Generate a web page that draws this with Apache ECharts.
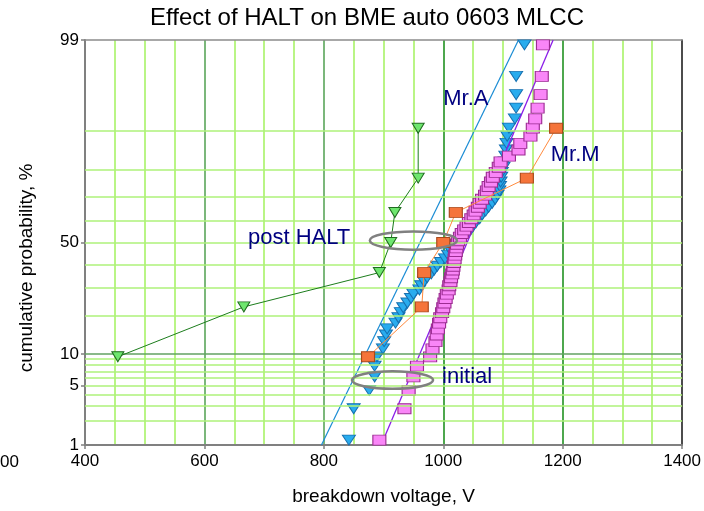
<!DOCTYPE html>
<html>
<head>
<meta charset="utf-8">
<script src="https://cdn.jsdelivr.net/npm/echarts@6/dist/echarts.min.js"></script>
<style>
  html, body { margin: 0; padding: 0; background: #ffffff; }
  #chart { width: 704px; height: 511px; }
</style>
</head>
<body>
<div id="chart"></div>
<script>
// ---- data ---------------------------------------------------------------
// Breakdown voltage (V) of the initial lots, 60 parts each, sorted ascending
const mrA_initial_V = [
  842, 850, 876, 885, 885, 889, 899, 901, 904, 906,
  920, 925, 929, 933, 940, 946, 950, 960, 963, 968,
  973, 980, 985, 990, 996, 1003, 1008, 1013, 1017, 1023,
  1028, 1034, 1040, 1046, 1050, 1055, 1061, 1065, 1071, 1076,
  1082, 1087, 1091, 1094, 1095, 1096, 1097, 1098, 1101, 1103,
  1104, 1105, 1106, 1107, 1110, 1120, 1122, 1122, 1122, 1136
];
const mrM_initial_V = [
  893, 935, 942, 950, 956, 978, 982, 987, 989, 991,
  993, 995, 998, 1000, 1002, 1004, 1006, 1009, 1010, 1012,
  1013, 1015, 1016, 1017, 1018, 1019, 1020, 1021, 1022, 1023,
  1025, 1028, 1031, 1035, 1039, 1043, 1047, 1051, 1054, 1058,
  1061, 1065, 1070, 1073, 1076, 1080, 1083, 1088, 1093, 1096,
  1110, 1126, 1129, 1146, 1150, 1154, 1158, 1163, 1165, 1167
];
// Cumulative probability (%) of each of the 60 ranked parts (median ranks)
const rank60_pct = [
  1.16, 2.81, 4.47, 6.13, 7.78, 9.44, 11.09, 12.75, 14.40, 16.06,
  17.72, 19.37, 21.03, 22.68, 24.34, 25.99, 27.65, 29.30, 30.96, 32.62,
  34.27, 35.93, 37.58, 39.24, 40.89, 42.55, 44.21, 45.86, 47.52, 49.17,
  50.83, 52.48, 54.14, 55.79, 57.45, 59.11, 60.76, 62.42, 64.07, 65.73,
  67.38, 69.04, 70.70, 72.35, 74.01, 75.66, 77.32, 78.97, 80.63, 82.28,
  83.94, 85.60, 87.25, 88.91, 90.56, 92.22, 93.87, 95.53, 97.18, 98.84
];
// Post-HALT lots, 7 parts each
const mrA_postHALT_V = [455, 666, 893, 912, 919, 958, 958];
const mrM_postHALT_V = [874, 964, 968, 1000, 1021, 1140, 1189];
const rank7_pct = [9.46, 22.97, 36.49, 50.0, 63.51, 77.03, 90.54];
// Normal-fit lines of the initial lots: voltage at 1 % and at 99 %
const fit_pct = [1, 99];
const mrA_fit_V = [796, 1126];
const mrM_fit_V = [896, 1184];
// Axis ticks
const xMin = 400, xMax = 1400, xStep = 200;
const yTickPct = [1, 5, 10, 50, 99];
const yGridPct = [2, 3, 4, 5, 6, 7, 8, 9, 10, 20, 30, 40, 50, 60, 70, 80, 90];
// Callouts
const noteText = ['Mr.A', 'Mr.M', 'post HALT', 'initial'];
const noteV = [1000, 1180, 673, 998];
const notePct = [95, 84.3, 52.3, 6.1];
const ringCenterV = [950, 915];
const ringCenterPct = [50.9, 5.7];
const ringHalfWidthV = [73, 68];
const ringHalfHeightZ = [0.105, 0.1];

// ---- probability scale (inverse normal CDF) -----------------------------
function probit(p) {
  const a = [-3.969683028665376e+01, 2.209460984245205e+02, -2.759285104469687e+02,
             1.383577518672690e+02, -3.066479806614716e+01, 2.506628277459239e+00];
  const b = [-5.447609879822406e+01, 1.615858368580409e+02, -1.556989798598866e+02,
             6.680131188771972e+01, -1.328068155288572e+01];
  const c = [-7.784894002430293e-03, -3.223964580411365e-01, -2.400758277161838e+00,
             -2.549732539343734e+00, 4.374664141464968e+00, 2.938163982698783e+00];
  const d = [7.784695709041462e-03, 3.224671290700398e-01, 2.445134137142996e+00,
             3.754408661907416e+00];
  const pl = 0.02425, ph = 1 - pl;
  let q, r;
  if (p < pl) {
    q = Math.sqrt(-2 * Math.log(p));
    return (((((c[0]*q+c[1])*q+c[2])*q+c[3])*q+c[4])*q+c[5]) / ((((d[0]*q+d[1])*q+d[2])*q+d[3])*q+1);
  }
  if (p > ph) {
    q = Math.sqrt(-2 * Math.log(1 - p));
    return -(((((c[0]*q+c[1])*q+c[2])*q+c[3])*q+c[4])*q+c[5]) / ((((d[0]*q+d[1])*q+d[2])*q+d[3])*q+1);
  }
  q = p - 0.5; r = q * q;
  return (((((a[0]*r+a[1])*r+a[2])*r+a[3])*r+a[4])*r+a[5])*q / (((((b[0]*r+b[1])*r+b[2])*r+b[3])*r+b[4])*r+1);
}
const zOf = pct => probit(pct / 100);
const pairs = (vs, ps) => vs.map((v, i) => [v, zOf(ps[i])]);

const FONT = '"Liberation Sans", Arial, sans-serif';
const yTickZ = yTickPct.map(zOf);
const yLabel = v => {
  const k = yTickZ.findIndex(z => Math.abs(z - v) < 1e-6);
  return k < 0 ? '' : String(yTickPct[k]);
};

const chart = echarts.init(document.getElementById('chart'), null, { renderer: 'canvas' });

const option = {
  backgroundColor: '#ffffff',
  animation: false,
  textStyle: { fontFamily: FONT },
  grid: { left: 85, right: 19, top: 40, bottom: 65, show: false },
  xAxis: [{
    type: 'value', min: xMin, max: xMax, interval: xStep,
    name: 'breakdown voltage, V', nameLocation: 'middle', nameGap: 42,
    nameTextStyle: { fontSize: 19, color: '#000', fontFamily: FONT },
    axisLine: { show: true, onZero: false, lineStyle: { color: '#808080', width: 2 } },
    axisTick: { show: true, length: 4, lineStyle: { color: '#808080', width: 1.5 } },
    axisLabel: { fontSize: 17, color: '#000', margin: 8, fontFamily: FONT, formatter: v => String(v) },
    splitLine: { show: true, lineStyle: {
      color: ['#808080', '#4f9f4f', '#4f9f4f', '#128a12', '#128a12', '#404040'], width: 1.5 } },
    minorTick: { show: false, splitNumber: 4 },
    minorSplitLine: { show: true, lineStyle: { color: '#a2f25e', width: 1.5 } }
  }, {
    type: 'value', min: xMin, max: xMax, position: 'top',
    axisLine: { show: true, onZero: false, lineStyle: { color: '#8c8c8c', width: 1.5 } },
    axisTick: { show: false }, axisLabel: { show: false }, splitLine: { show: false }
  }],
  yAxis: [{
    type: 'value', min: zOf(1), max: zOf(99),
    axisLine: { show: true, onZero: false, lineStyle: { color: '#808080', width: 2 } },
    axisTick: { show: true, customValues: yTickZ, length: 4, lineStyle: { color: '#808080', width: 1.5 } },
    axisLabel: { customValues: yTickZ, formatter: yLabel, fontSize: 17, color: '#000', margin: 6, fontFamily: FONT },
    splitLine: { show: false }
  }, {
    type: 'value', min: zOf(1), max: zOf(99), position: 'right',
    axisLine: { show: true, onZero: false, lineStyle: { color: '#404040', width: 1.5 } },
    axisTick: { show: false }, axisLabel: { show: false }, splitLine: { show: false }
  }],
  graphic: [
    { type: 'text', x: 367, y: 18, z: 10,
      style: { text: 'Effect of HALT on BME auto 0603 MLCC', font: '24px ' + FONT,
               fill: '#000', align: 'center', verticalAlign: 'middle' } },
    { type: 'text', x: 27, y: 268, rotation: Math.PI / 2, z: 10,
      style: { text: 'cumulative probability, %', font: '19px ' + FONT,
               fill: '#000', align: 'center', verticalAlign: 'middle' } },
    { type: 'text', x: 0, y: 462, z: 10,
      style: { text: '00', font: '17px ' + FONT, fill: '#000', align: 'left', verticalAlign: 'middle' } }
  ],
  series: [
    // horizontal probability grid
    { type: 'line', data: [], z: 1, silent: true,
      markLine: { silent: true, symbol: 'none', label: { show: false }, animation: false,
        data: yGridPct.map(p => ({ yAxis: zOf(p),
          lineStyle: { color: p === 10 ? '#62a262' : '#aef27a', width: 1.5, type: 'solid' } })) } },
    // Mr.A initial
    { name: 'Mr.A initial', type: 'scatter', z: 3,
      data: pairs(mrA_initial_V, rank60_pct),
      symbol: 'triangle', symbolRotate: 180, symbolSize: [13, 10],
      itemStyle: { color: '#29acee', borderColor: '#1670b0', borderWidth: 1, opacity: 1 } },
    { name: 'Mr.A fit', type: 'line', z: 3, symbol: 'none',
      data: pairs(mrA_fit_V, fit_pct),
      lineStyle: { color: '#1a8cd4', width: 1.2 } },
    // Mr.M initial
    { name: 'Mr.M initial', type: 'scatter', z: 4,
      data: pairs(mrM_initial_V, rank60_pct),
      symbol: 'rect', symbolSize: [13, 10],
      itemStyle: { color: '#f986f7', borderColor: '#9c2c92', borderWidth: 1, opacity: 1 } },
    { name: 'Mr.M fit', type: 'line', z: 4, symbol: 'none',
      data: pairs(mrM_fit_V, fit_pct),
      lineStyle: { color: '#8a1de8', width: 1.3 } },
    // Mr.M post HALT
    { name: 'Mr.M post HALT', type: 'line', z: 5,
      data: pairs(mrM_postHALT_V, rank7_pct),
      symbol: 'rect', symbolSize: [13, 10], showSymbol: true,
      lineStyle: { color: '#ff8a3d', width: 1 },
      itemStyle: { color: '#f5743a', borderColor: '#a8481a', borderWidth: 1, opacity: 1 } },
    // Mr.A post HALT
    { name: 'Mr.A post HALT', type: 'line', z: 6,
      data: pairs(mrA_postHALT_V, rank7_pct),
      symbol: 'triangle', symbolRotate: 180, symbolSize: [12, 10], showSymbol: true,
      lineStyle: { color: '#1c7d1c', width: 1 },
      itemStyle: { color: '#6ee66e', borderColor: '#1f6a1f', borderWidth: 1, opacity: 1 } },
    // rings around the grouped points
    { type: 'custom', z: 7, silent: true,
      data: ringCenterV.map((v, i) => [v, zOf(ringCenterPct[i]), ringHalfWidthV[i], ringHalfHeightZ[i]]),
      renderItem: (params, api) => {
        const c = api.coord([api.value(0), api.value(1)]);
        const s = api.size([api.value(2), api.value(3)]);
        return { type: 'ellipse', shape: { cx: c[0], cy: c[1], rx: s[0], ry: s[1] },
                 style: { fill: null, stroke: '#808080', lineWidth: 2.5 } };
      } },
    // callout texts
    { type: 'scatter', z: 8, silent: true, symbolSize: 0,
      itemStyle: { opacity: 1 },
      data: noteV.map((v, i) => ({ value: [v, zOf(notePct[i])], name: noteText[i] })),
      label: { show: true, position: 'right', distance: 0, formatter: p => p.name,
               fontSize: 22, color: '#000080', opacity: 1, fontFamily: FONT } }
  ]
};
chart.setOption(option);
</script>
</body>
</html>
